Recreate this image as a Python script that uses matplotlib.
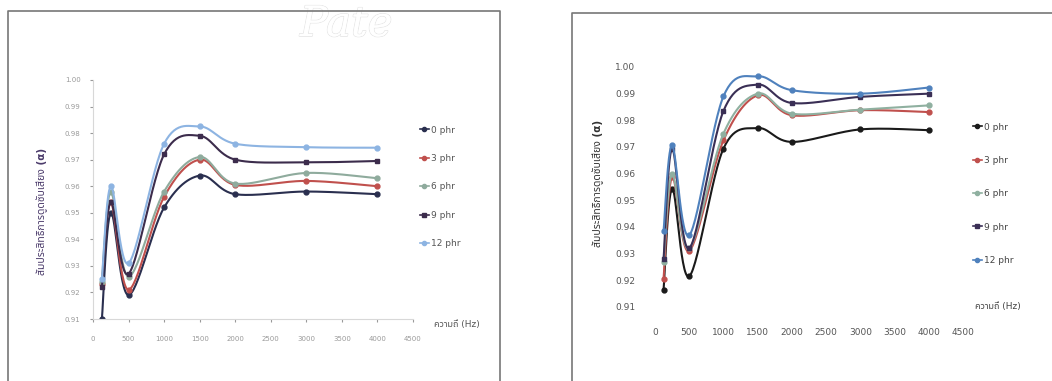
import matplotlib
matplotlib.use("Agg")
import numpy as np
import matplotlib.pyplot as plt
from matplotlib.lines import Line2D
import matplotlib.patheffects as pe

# frequency (Hz) of the measured points
freq = [125, 250, 500, 1000, 1500, 2000, 3000, 4000]
labels = ["0 phr", "3 phr", "6 phr", "9 phr", "12 phr"]

# left chart - sound absorption coefficient
left_0 = [0.910, 0.950, 0.919, 0.952, 0.964, 0.957, 0.958, 0.957]
left_3 = [0.923, 0.954, 0.921, 0.956, 0.970, 0.9605, 0.962, 0.960]
left_6 = [0.924, 0.958, 0.926, 0.958, 0.971, 0.961, 0.965, 0.963]
left_9 = [0.922, 0.954, 0.927, 0.972, 0.979, 0.970, 0.969, 0.9695]
left_12 = [0.925, 0.960, 0.931, 0.976, 0.9825, 0.976, 0.9747, 0.9745]

# right chart
right_0 = [0.9165, 0.9544, 0.9215, 0.9694, 0.9771, 0.9719, 0.9766, 0.9763]
right_3 = [0.9206, 0.9588, 0.931, 0.9725, 0.9894, 0.9819, 0.9838, 0.9831]
right_6 = [0.927, 0.960, 0.932, 0.975, 0.990, 0.9825, 0.984, 0.9856]
right_9 = [0.928, 0.9694, 0.932, 0.9835, 0.9934, 0.9865, 0.9888, 0.990]
right_12 = [0.9385, 0.9706, 0.9369, 0.989, 0.9965, 0.9913, 0.990, 0.9923]

xticks = [0, 500, 1000, 1500, 2000, 2500, 3000, 3500, 4000, 4500]
yticks = [0.91, 0.92, 0.93, 0.94, 0.95, 0.96, 0.97, 0.98, 0.99, 1.00]

thai = ["DejaVu Sans", "Noto Sans Thai", "Sarabun", "Bai Jamjuree"]
ylab = "สัมประสิทธิ์การดูดซับเสียง (α)"
xlab = "ความถี่ (Hz)"

left_colors = ["#2a2f4f", "#c0504d", "#8fab9d", "#3c2c4c", "#8db4e2"]
right_colors = ["#1a1a1a", "#c0504d", "#8fb0a0", "#3a2f55", "#4f81bd"]
markers = ["o", "o", "o", "s", "o"]


def smooth(xs, ys, ax, n=30):
    # excel-like smoothed line, done in axes (screen-ish) units
    x0, x1 = ax.get_xlim()
    y0, y1 = ax.get_ylim()
    px = (np.array(xs) - x0) / (x1 - x0)
    py = (np.array(ys) - y0) / (y1 - y0)
    pts = np.column_stack([px, py])
    pts = np.vstack([pts[0], pts, pts[-1]])
    out = []
    for i in range(1, len(pts) - 2):
        p0, p1, p2, p3 = pts[i - 1], pts[i], pts[i + 1], pts[i + 2]
        c1 = p1 + (p2 - p0) / 6
        c2 = p2 - (p3 - p1) / 6
        t = np.linspace(0, 1, n)[:, None]
        seg = (1 - t) ** 3 * p1 + 3 * (1 - t) ** 2 * t * c1 + 3 * (1 - t) * t ** 2 * c2 + t ** 3 * p2
        out.append(seg)
    out = np.vstack(out)
    return out[:, 0] * (x1 - x0) + x0, out[:, 1] * (y1 - y0) + y0


fig = plt.figure(figsize=(10.52, 3.81), dpi=100)

# ---------- left chart ----------
ax1 = fig.add_axes([93 / 1052, 1 - 319 / 381, 320 / 1052, 239 / 381])
ax1.set_xlim(0, 4500)
ax1.set_ylim(0.91, 1.00)
for ys, c, m in zip([left_0, left_3, left_6, left_9, left_12], left_colors, markers):
    sx, sy = smooth(freq, ys, ax1)
    ax1.plot(sx, sy, color=c, lw=1.5)
    ax1.plot(freq, ys, ls="none", marker=m, ms=3.5, color=c)
ax1.set_xticks(xticks)
ax1.set_yticks(yticks)
ax1.set_yticklabels([f"{v:.2f}" for v in yticks])
ax1.tick_params(axis="both", labelsize=5, colors="#999999", length=2)
ax1.tick_params(axis="x", pad=10)
ax1.tick_params(axis="y", pad=7)
for s in ["top", "right"]:
    ax1.spines[s].set_visible(False)
for s in ["left", "bottom"]:
    ax1.spines[s].set_color("#d8d8d8")

h1 = [Line2D([], [], color=c, marker=m, ms=3, lw=1.2) for c, m in zip(left_colors, markers)]
fig.legend(h1, labels, loc="upper left", bbox_to_anchor=(415 / 1052, 1 - 121 / 381),
           frameon=False, fontsize=6.5, labelspacing=2.15, handlelength=1.1,
           handletextpad=0.2, borderpad=0, labelcolor="#555555")
fig.text(42 / 1052, 1 - 211 / 381, ylab, rotation=90, ha="center", va="center",
         fontsize=7.5, color="#4a3a6a", family=thai, fontweight="bold")
fig.text(434 / 1052, 1 - 324 / 381, xlab, ha="left", va="center", fontsize=6.5,
         color="#555555", family=thai)

# ---------- right chart ----------
ax2 = fig.add_axes([655 / 1052, 1 - 307 / 381, 308 / 1052, 240 / 381])
ax2.set_xlim(0, 4500)
ax2.set_ylim(0.91, 1.00)
for ys, c, m in zip([right_0, right_3, right_6, right_9, right_12], right_colors, markers):
    sx, sy = smooth(freq, ys, ax2)
    ax2.plot(sx, sy, color=c, lw=1.5)
    ax2.plot(freq, ys, ls="none", marker=m, ms=3.5, color=c)
ax2.set_xticks(xticks)
ax2.set_yticks(yticks)
ax2.set_yticklabels([f"{v:.2f}" for v in yticks])
ax2.tick_params(axis="both", labelsize=6.5, colors="#555555", length=0)
ax2.tick_params(axis="x", pad=15)
ax2.tick_params(axis="y", pad=14)
for s in ax2.spines.values():
    s.set_visible(False)

h2 = [Line2D([], [], color=c, marker=m, ms=3, lw=1.2) for c, m in zip(right_colors, markers)]
fig.legend(h2, labels, loc="upper left", bbox_to_anchor=(968 / 1052, 1 - 118 / 381),
           frameon=False, fontsize=6.5, labelspacing=2.7, handlelength=1.1,
           handletextpad=0.2, borderpad=0, labelcolor="#444444")
fig.text(598 / 1052, 1 - 183 / 381, ylab, rotation=90, ha="center", va="center",
         fontsize=7.5, color="#333333", family=thai, fontweight="bold")
fig.text(975 / 1052, 1 - 307 / 381, xlab, ha="left", va="center", fontsize=6.5,
         color="#444444", family=thai)

# scanned page frames
fig.add_artist(Line2D([8 / 1052, 8 / 1052, 500 / 1052, 500 / 1052],
                      [-0.05, 1 - 11 / 381, 1 - 11 / 381, -0.05],
                      transform=fig.transFigure, color="#777777", lw=1.2))
fig.add_artist(Line2D([572 / 1052, 572 / 1052, 1.05],
                      [-0.05, 1 - 13 / 381, 1 - 13 / 381],
                      transform=fig.transFigure, color="#777777", lw=1.2))

# faint watermark
wm = fig.text(300 / 1052, 1 - 36 / 381, "Pate", fontsize=30, style="italic",
              color="white", family="DejaVu Serif", zorder=-1)
wm.set_path_effects([pe.withStroke(linewidth=1.0, foreground="#e2e2e2"), pe.Normal()])

fig.savefig("out.png", dpi=100)
